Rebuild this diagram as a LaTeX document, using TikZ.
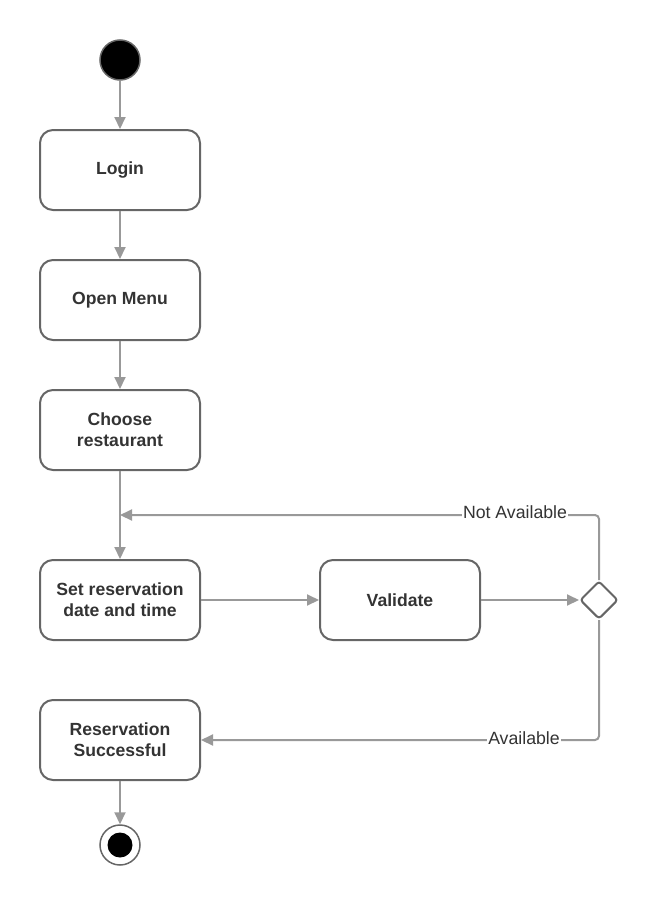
\documentclass[tikz,border=0pt]{standalone}
\usepackage{fontspec}
\setmainfont{Liberation Sans}
\usetikzlibrary{arrows.meta,shapes.geometric}
\definecolor{boxline}{HTML}{666666}
\definecolor{conn}{HTML}{999999}
\definecolor{txt}{HTML}{333333}
\tikzset{
  act/.style={draw=boxline, line width=2pt, rounded corners=13pt, minimum width=160pt, minimum height=80pt, align=center, font=\fontsize{17.6}{21.3}\selectfont\bfseries, text=txt, inner sep=0pt},
  flow/.style={draw=conn, line width=2pt, -{Triangle[length=12pt,width=11pt]}},
  elbowflow/.style={flow, rounded corners=4pt},
  lbl/.style={fill=white, inner sep=1pt, font=\fontsize{17.7}{20}\selectfont, text=txt},
}
\begin{document}
\begin{tikzpicture}[x=1pt,y=-1pt]
\useasboundingbox (0,0) rectangle (660,905);
\node[circle, fill=black, draw=boxline, line width=1.5pt, minimum size=40pt, inner sep=0pt] (start) at (120,60) {};
\node[act] (login) at (120,170) {Login};
\node[act] (menu) at (120,300) {Open Menu};
\node[act] (choose) at (120,430) {Choose\\restaurant};
\node[act] (set) at (120,600) {Set reservation\\date and time};
\node[act] (valid) at (400,600) {Validate};
\node[diamond, draw=boxline, line width=2pt, rounded corners=3pt, minimum size=38pt, inner sep=0pt] (dec) at (599,600) {};
\node[act] (succ) at (120,740) {Reservation\\Successful};
\node[circle, draw=boxline, line width=1.5pt, fill=white, minimum size=40pt, inner sep=0pt] (end) at (120,845) {};
\node[circle, fill=black, minimum size=25pt, inner sep=0pt] (endin) at (end) {};
\coordinate (nj) at (120,515);
\draw[flow] (start) -- (login);
\draw[flow] (login) -- (menu);
\draw[flow] (menu) -- (choose);
\draw[flow] (choose) -- (set);
\draw[flow] (set) -- (valid);
\draw[flow] (valid) -- (dec);
\draw[elbowflow] (dec.north) |- (nj);
\draw[elbowflow] (dec.south) |- (succ.east);
\node[lbl] (na) at (515,512) {Not Available};
\node[lbl] (av) at (524,738) {Available};
\draw[flow] (succ) -- (end);
\end{tikzpicture}
\end{document}
